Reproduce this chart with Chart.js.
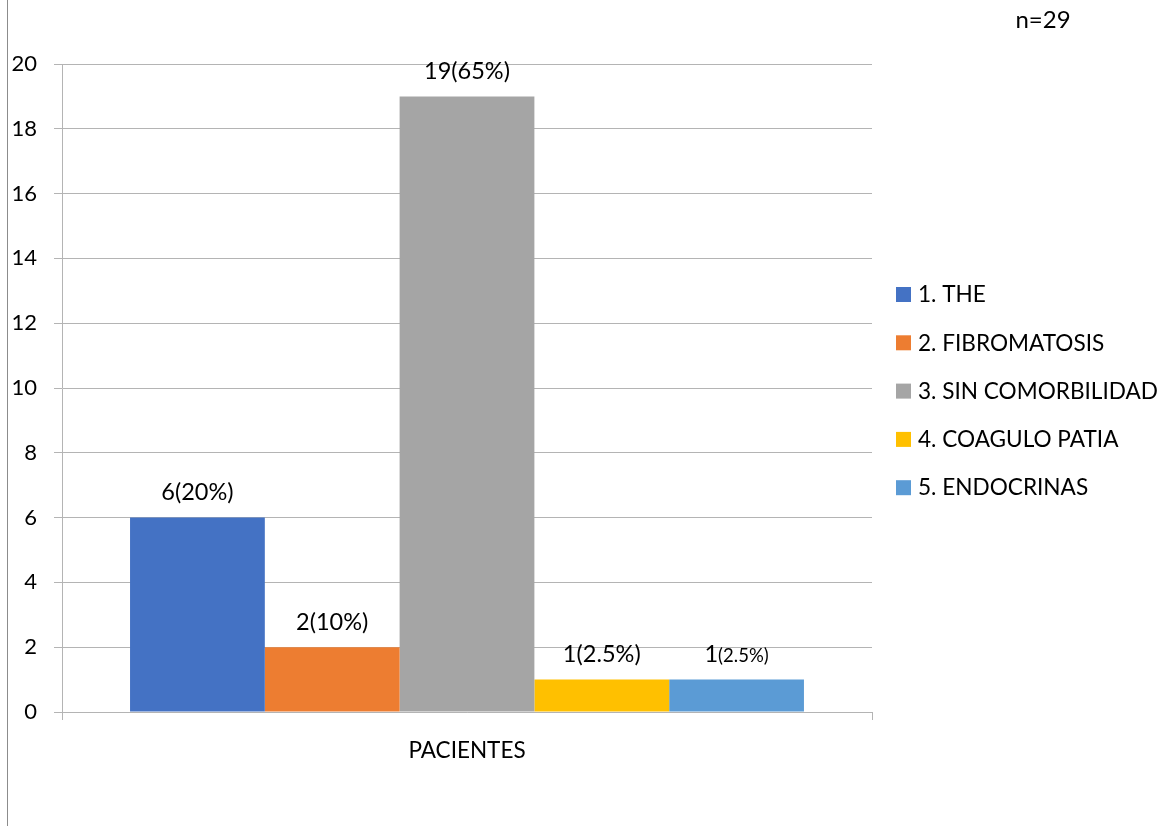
<!DOCTYPE html>
<html>
<head>
<meta charset="utf-8">
<script src="https://cdn.jsdelivr.net/npm/chart.js@4/dist/chart.umd.min.js"></script>
<style>
  html, body { margin: 0; padding: 0; background: #fff; }
  #wrap { position: relative; width: 1167px; height: 826px; }
</style>
</head>
<body>
<div id="wrap"><canvas id="c" width="1167" height="826"></canvas></div>
<script>
const categories = ["PACIENTES"];
const seriesNames = ["1. THE", "2. FIBROMATOSIS", "3. SIN COMORBILIDAD", "4. COAGULO PATIA", "5. ENDOCRINAS"];
const seriesValues = [6, 2, 19, 1, 1];
const labelMain = ["6(20%)", "2(10%)", "19(65%)", "1(2.5%)", "1"];
const labelSmall = ["", "", "", "", "(2.5%)"];
const seriesColors = ["#4472C4", "#ED7D31", "#A5A5A5", "#FFC000", "#5B9BD5"];
const yTicks = [0, 2, 4, 6, 8, 10, 12, 14, 16, 18, 20];
const noteText = "n=29";

const FONT = "Lato";
const GRID = "#b4b4b4";

const datasets = seriesNames.map((n, i) => ({
  label: n,
  data: [seriesValues[i]],
  backgroundColor: seriesColors[i],
  borderWidth: 0,
  categoryPercentage: 0.832,
  barPercentage: 1.0
}));

const decor = {
  id: 'decor',
  afterDatasetsDraw(chart) {
    const ctx = chart.ctx;
    ctx.save();
    // data labels
    chart.data.datasets.forEach((ds, i) => {
      const bar = chart.getDatasetMeta(i).data[0];
      const main = labelMain[i], small = labelSmall[i];
      ctx.textBaseline = 'middle';
      ctx.fillStyle = '#000';
      ctx.font = `23.5px ${FONT}`;
      const w1 = ctx.measureText(main).width;
      ctx.font = `18.5px ${FONT}`;
      const w2 = small ? ctx.measureText(small).width : 0;
      let x = bar.x - (w1 + w2) / 2;
      const y = bar.y - 25;
      ctx.textAlign = 'left';
      ctx.font = `23.5px ${FONT}`;
      ctx.fillText(main, x, y);
      if (small) {
        ctx.font = `18.5px ${FONT}`;
        ctx.fillText(small, x + w1, y + 1);
      }
    });
    // legend
    const lx = 896, ly0 = 294, dy = 48.3;
    chart.data.datasets.forEach((ds, i) => {
      const y = ly0 + i * dy;
      ctx.fillStyle = ds.backgroundColor;
      ctx.fillRect(lx, y - 7, 15, 15);
      ctx.fillStyle = '#000';
      ctx.font = `22.6px ${FONT}`;
      ctx.textAlign = 'left';
      ctx.textBaseline = 'middle';
      ctx.fillText(ds.label, lx + 22, y + 1);
    });
    // note
    ctx.font = `24px ${FONT}`;
    ctx.textAlign = 'center';
    ctx.textBaseline = 'middle';
    ctx.fillText(noteText, 1043, 20);
    // left frame line
    ctx.strokeStyle = '#8c8c8c';
    ctx.lineWidth = 1;
    ctx.beginPath();
    ctx.moveTo(7.5, 0);
    ctx.lineTo(7.5, 826);
    ctx.stroke();
    ctx.restore();
  }
};

new Chart(document.getElementById('c'), {
  type: 'bar',
  data: { labels: categories, datasets },
  options: {
    responsive: false,
    animation: false,
    devicePixelRatio: 1,
    layout: { padding: { left: 8, top: 64, right: 295, bottom: 0 } },
    plugins: { legend: { display: false }, tooltip: { enabled: false } },
    scales: {
      x: {
        offset: true,
        grid: { display: true, offset: true, drawOnChartArea: false, drawTicks: true, tickLength: 8, color: GRID },
        border: { display: true, color: GRID },
        ticks: { color: '#000', font: { family: FONT, size: 22.5 }, padding: 17 },
        afterFit(s) { s.height = 114; }
      },
      y: {
        min: 0, max: 20,
        afterBuildTicks(s) { s.ticks = yTicks.map(v => ({ value: v })); },
        grid: { color: GRID, tickLength: 8, drawTicks: true },
        border: { display: true, color: GRID },
        ticks: { color: '#000', font: { family: FONT, size: 22 }, padding: 17 },
        afterFit(s) { s.width = 54; }
      }
    }
  },
  plugins: [decor]
});
</script>
</body>
</html>
